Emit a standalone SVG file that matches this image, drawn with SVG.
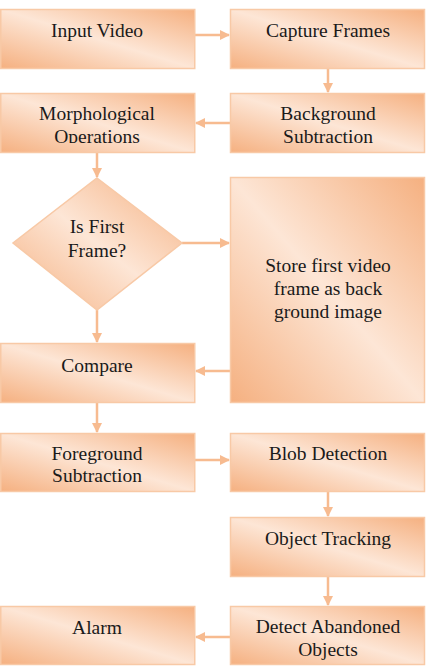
<svg xmlns="http://www.w3.org/2000/svg" width="427" height="669" viewBox="0 0 427 669">
<defs>
<linearGradient id="g" x1="0" y1="1" x2="1" y2="0">
<stop offset="0" stop-color="#f5b080"/>
<stop offset="0.5" stop-color="#fde6d6"/>
<stop offset="1" stop-color="#f5b080"/>
</linearGradient>
<marker id="ah" viewBox="0 0 10 10" refX="9" refY="5" markerWidth="10" markerHeight="10" markerUnits="userSpaceOnUse" orient="auto">
<path d="M0,0 L10,5 L0,10 z" fill="#f7bb90"/>
</marker>
<clipPath id="c1"><rect x="0" y="93" width="195" height="50"/></clipPath>
<clipPath id="c2"><rect x="230" y="606" width="195" height="56"/></clipPath>
</defs>
<style>
.b{fill:url(#g);stroke:#f8c9a6;stroke-width:1.5}
.t{font-family:'Liberation Serif',Tinos,'Times New Roman','DejaVu Serif',serif;font-size:19.5px;fill:#1a1a1a;text-anchor:middle}
.c{stroke:#f7bb90;stroke-width:2.5;fill:none;marker-end:url(#ah)}
</style>
<rect width="427" height="669" fill="#ffffff"/>
<g id="connectors">
<line class="c" x1="195" y1="35" x2="229" y2="35"/>
<line class="c" x1="328" y1="69" x2="328" y2="92"/>
<line class="c" x1="230" y1="123" x2="196" y2="123"/>
<line class="c" x1="97" y1="152" x2="97" y2="177"/>
<line class="c" x1="182" y1="243" x2="229" y2="243"/>
<line class="c" x1="97" y1="310" x2="97" y2="342"/>
<line class="c" x1="230" y1="371" x2="196" y2="371"/>
<line class="c" x1="97" y1="403" x2="97" y2="432"/>
<line class="c" x1="195" y1="460" x2="229" y2="460"/>
<line class="c" x1="328" y1="492" x2="328" y2="516"/>
<line class="c" x1="328" y1="577" x2="328" y2="605"/>
<line class="c" x1="230" y1="637" x2="196" y2="637"/>
</g>
<g id="input-video"><rect class="b" x="0.75" y="9.5" width="194" height="59"/><text class="t" x="97" y="37">Input Video</text></g>
<g id="capture-frames"><rect class="b" x="230.5" y="9.5" width="194" height="59"/><text class="t" x="328" y="37">Capture Frames</text></g>
<g id="background-subtraction"><rect class="b" x="230.5" y="93.5" width="194" height="59"/><text class="t" x="328" y="120">Background</text><text class="t" x="328" y="143">Subtraction</text></g>
<g id="morphological-operations"><rect class="b" x="0.75" y="93.5" width="194" height="59"/><g clip-path="url(#c1)"><text class="t" x="97" y="120">Morphological</text><text class="t" x="97" y="143">Operations</text></g></g>
<g id="is-first-frame"><polygon class="b" points="97,178 182,243 97,310 13,243"/><text class="t" x="97" y="233">Is First</text><text class="t" x="97" y="257">Frame?</text></g>
<g id="store-first-frame"><rect class="b" x="230.5" y="177.5" width="194" height="225"/><text class="t" x="328" y="272">Store first video</text><text class="t" x="328" y="295">frame as back</text><text class="t" x="328" y="318">ground image</text></g>
<g id="compare"><rect class="b" x="0.75" y="343.5" width="194" height="59"/><text class="t" x="97" y="372">Compare</text></g>
<g id="foreground-subtraction"><rect class="b" x="0.75" y="433.5" width="194" height="58"/><text class="t" x="97" y="460">Foreground</text><text class="t" x="97" y="482">Subtraction</text></g>
<g id="blob-detection"><rect class="b" x="230.5" y="433.5" width="194" height="58"/><text class="t" x="328" y="460">Blob Detection</text></g>
<g id="object-tracking"><rect class="b" x="230.5" y="517.5" width="194" height="59"/><text class="t" x="328" y="545">Object Tracking</text></g>
<g id="alarm"><rect class="b" x="0.75" y="606.5" width="194" height="58"/><text class="t" x="97" y="634">Alarm</text></g>
<g id="detect-abandoned-objects"><rect class="b" x="230.5" y="606.5" width="194" height="58"/><g clip-path="url(#c2)"><text class="t" x="328" y="633">Detect Abandoned</text><text class="t" x="328" y="656">Objects</text></g></g>
</svg>
